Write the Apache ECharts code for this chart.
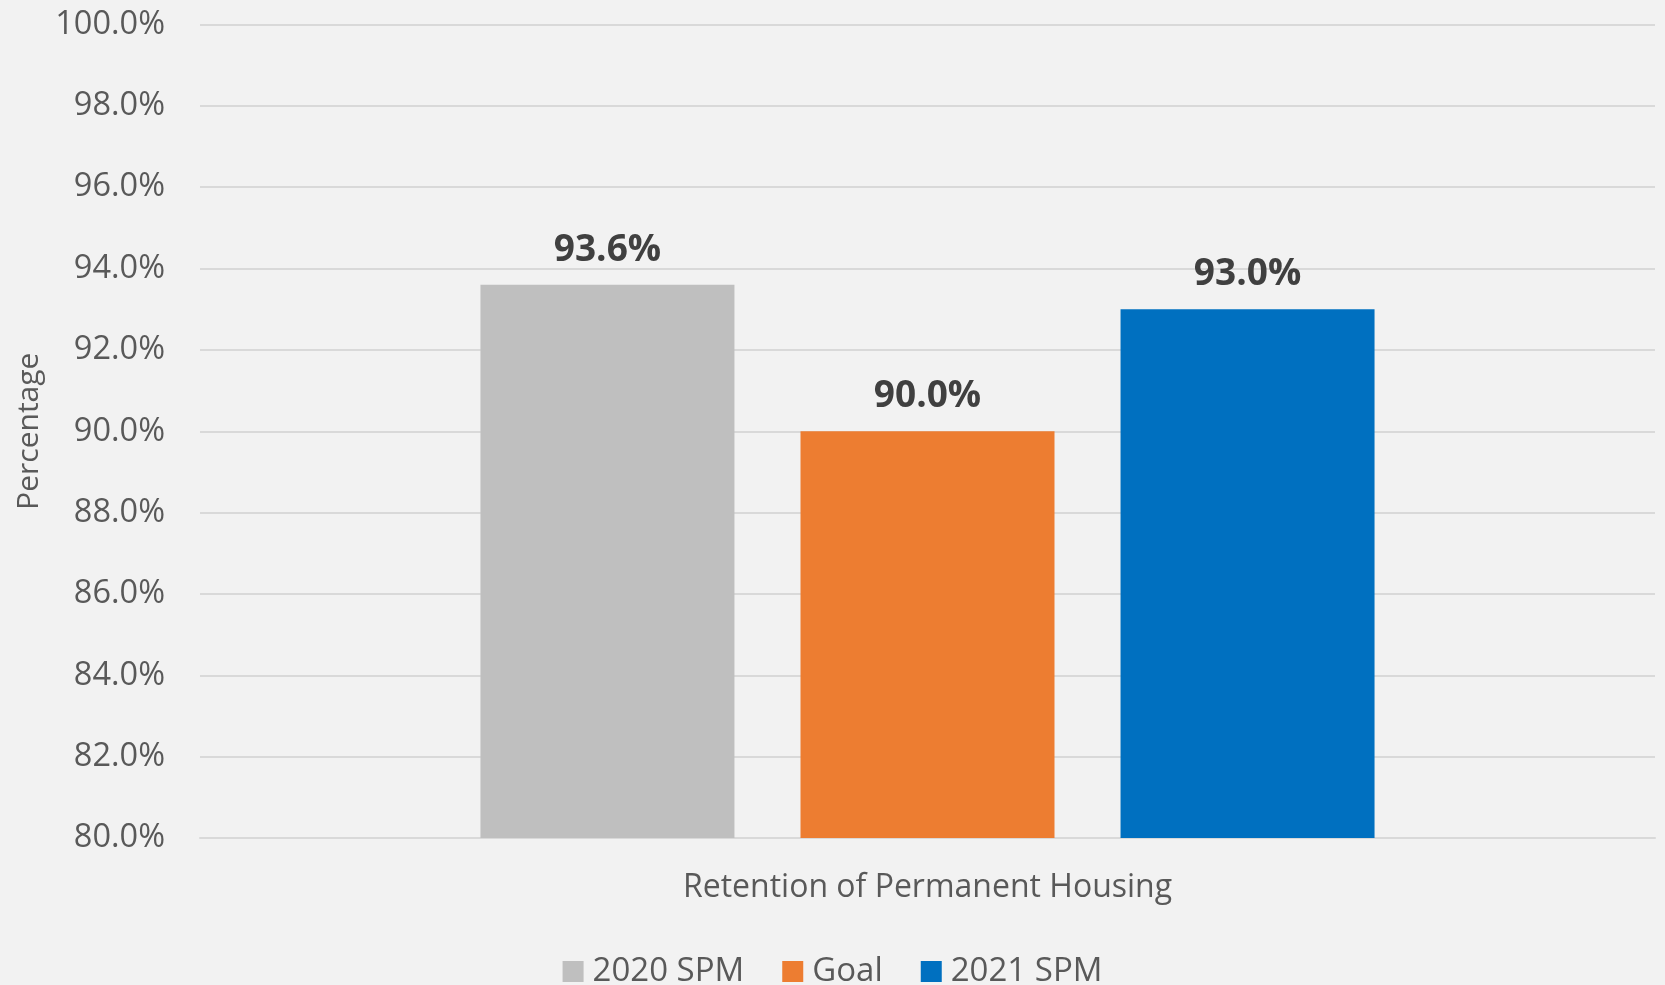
<!DOCTYPE html>
<html>
<head>
<meta charset="utf-8">
<script src="https://cdn.jsdelivr.net/npm/echarts@6/dist/echarts.min.js"></script>
<style>
  html, body { margin: 0; padding: 0; background: #f2f2f2; }
  #chart { width: 1665px; height: 985px; }
</style>
</head>
<body>
<div id="chart"></div>
<script>
var categories = ['Retention of Permanent Housing'];
var seriesNames = ['2020 SPM', 'Goal', '2021 SPM'];
var seriesValues = [[93.6], [90.0], [93.0]];
var seriesColors = ['#bfbfbf', '#ed7d31', '#0070c0'];

var chart = echarts.init(document.getElementById('chart'));

chart.setOption({

    backgroundColor: '#f2f2f2',

    // Global text styles
    textStyle: {
        fontFamily: '"Open Sans", Arial, sans-serif',
        color: '#595959'
    },

    animation: false,

    // Setup grid
    grid: {
        left: 200,
        right: 10,
        top: 24.5,
        bottom: 147,
        outerBoundsMode: 'none'
    },

    // Legend at the bottom
    legend: {
        data: seriesNames,
        bottom: -8,
        left: 'center',
        itemWidth: 21,
        itemHeight: 21,
        itemGap: 38,
        icon: 'rect',
        textStyle: {
            fontSize: 33,
            color: '#595959',
            padding: [0, 0, 0, 4]
        }
    },

    // Horizontal axis
    xAxis: {
        type: 'category',
        data: categories,
        axisTick: { show: false },
        axisLine: {
            lineStyle: { color: '#d9d9d9', width: 2 }
        },
        axisLabel: {
            fontSize: 32,
            color: '#595959',
            margin: 34
        }
    },

    // Vertical axis
    yAxis: {
        type: 'value',
        min: 80,
        max: 100,
        interval: 2,
        name: 'Percentage',
        nameLocation: 'middle',
        nameGap: 156,
        nameTextStyle: {
            fontSize: 30,
            color: '#595959'
        },
        axisLabel: {
            fontSize: 32.5,
            color: '#595959',
            margin: 35,
            formatter: function (v) { return v.toFixed(1) + '%'; }
        },
        axisLine: { show: false },
        axisTick: { show: false },
        splitLine: {
            lineStyle: { color: '#d9d9d9', width: 2 }
        }
    },

    // Add series
    series: seriesNames.map(function (name, i) {
        return {
            name: name,
            type: 'bar',
            barWidth: 254,
            barGap: '26%',
            itemStyle: { color: seriesColors[i] },
            label: {
                show: true,
                position: 'top',
                distance: 16,
                fontSize: 37,
                fontWeight: 'bold',
                color: '#404040',
                formatter: function (p) { return p.value.toFixed(1) + '%'; }
            },
            data: seriesValues[i]
        };
    })
});
</script>
</body>
</html>
